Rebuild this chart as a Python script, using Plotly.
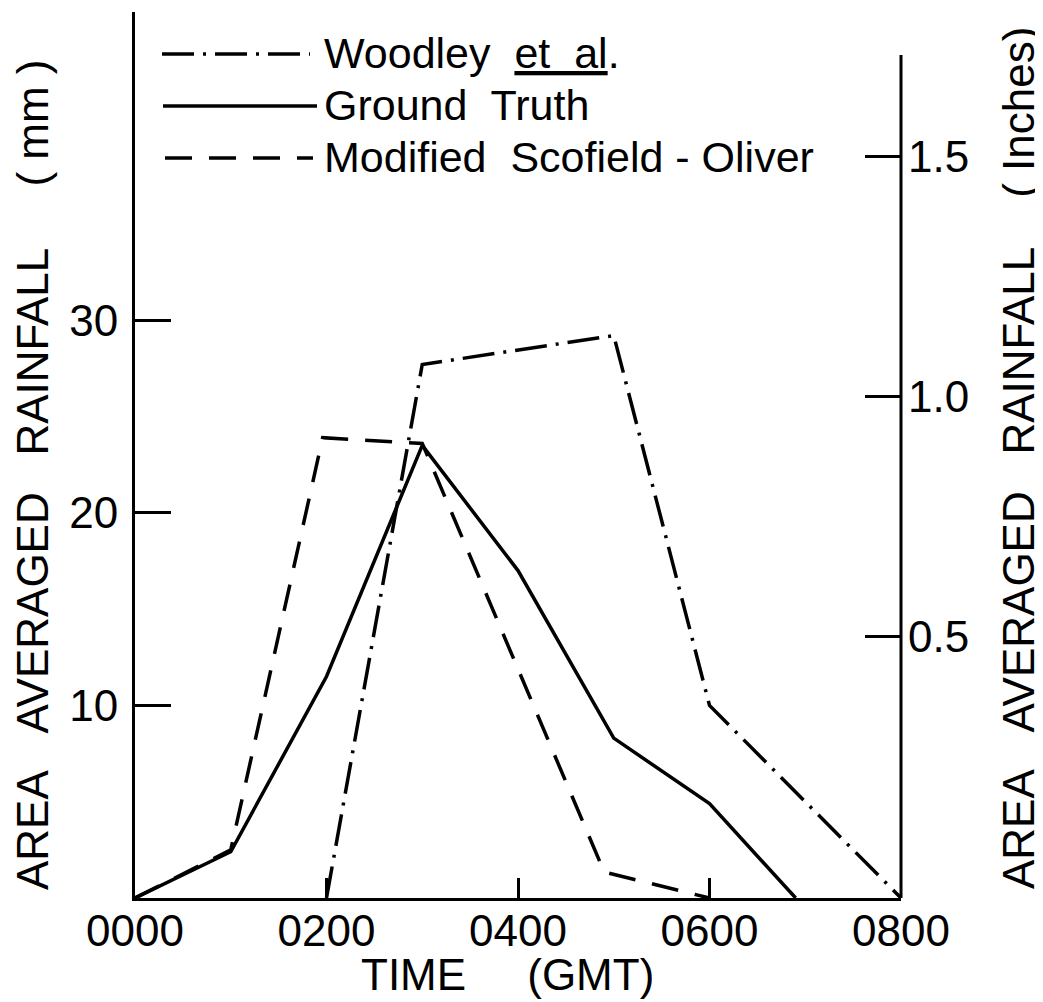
import plotly.graph_objects as go

# ---------------- data ----------------
# time in hours after 0000 GMT
time_ticks = [0, 2, 4, 6, 8]
time_labels = ["0000", "0200", "0400", "0600", "0800"]
mm_ticks = [10, 20, 30]
mm_labels = ["10", "20", "30"]
inch_ticks = [0.5, 1.0, 1.5]
inch_labels = ["0.5", "1.0", "1.5"]

woodley_t = [2.0, 3.0, 5.0, 6.0, 8.0]
woodley_mm = [0.0, 27.7, 29.2, 10.0, 0.0]

ground_t = [0.0, 1.0, 2.0, 3.0, 4.0, 5.0, 6.0, 6.9]
ground_mm = [0.0, 2.4, 11.5, 23.5, 17.0, 8.3, 4.9, 0.0]

scofield_t = [0.0, 1.0, 1.96, 3.0, 4.9, 6.0]
scofield_mm = [0.0, 2.5, 23.9, 23.6, 1.35, 0.0]

series_names = ["Woodley\u00a0 <u>et\u00a0 al</u>.", "Ground\u00a0 Truth",
                "Modified\u00a0 Scofield\u00a0-\u00a0Oliver"]

# ---------------- styling ----------------
FONT = "Liberation Sans, Arial, sans-serif"
FS = 44
LEG_FS = 43
BODY = 8                       # default page margin of the html body
W, H = 1043 - BODY, 1002 - BODY
PLOT_L, PLOT_R, PLOT_T, PLOT_B = 135, 901, 12, 898   # plot area in page pixels
L, T = PLOT_L - BODY, PLOT_T - BODY
R, B = 1043 - PLOT_R, 1002 - PLOT_B
PW, PH = PLOT_R - PLOT_L, PLOT_B - PLOT_T

WOODLEY_DASH = "32px,9px,3px,9px"
SCOFIELD_DASH = "27px,17px"
LW = 3.5


def px_x(px):
    return (px - PLOT_L) / PW


def px_y(py):
    return (PLOT_B - py) / PH


fig = go.Figure()
fig.add_trace(go.Scatter(x=woodley_t, y=woodley_mm, mode="lines", name=series_names[0],
                         line=dict(color="black", width=LW, dash=WOODLEY_DASH), showlegend=False))
fig.add_trace(go.Scatter(x=ground_t, y=ground_mm, mode="lines", name=series_names[1],
                         line=dict(color="black", width=LW), showlegend=False))
fig.add_trace(go.Scatter(x=scofield_t, y=scofield_mm, mode="lines", name=series_names[2],
                         line=dict(color="black", width=LW, dash=SCOFIELD_DASH), showlegend=False))
# empty trace to carry the inches axis
fig.add_trace(go.Scatter(x=[None], y=[None], yaxis="y2", showlegend=False, hoverinfo="skip"))

shapes = []
annotations = []

# right axis line (shorter than the left one)
shapes.append(dict(type="line", xref="paper", yref="paper", x0=1, x1=1, y0=0, y1=px_y(55),
                   line=dict(color="black", width=3)))

# hand-drawn style legend
legend_rows = [54, 106, 158]
legend_x = [(162, 310), (163, 317), (165, 313)]
legend_dash = [WOODLEY_DASH, "solid", SCOFIELD_DASH]
for name, ry, (x0, x1), d in zip(series_names, legend_rows, legend_x, legend_dash):
    shapes.append(dict(type="line", xref="paper", yref="paper",
                       x0=px_x(x0), x1=px_x(x1), y0=px_y(ry), y1=px_y(ry),
                       line=dict(color="black", width=LW, dash=d)))
    annotations.append(dict(text=name, xref="paper", yref="paper", x=px_x(322), y=px_y(ry - 1),
                            xanchor="left", yanchor="middle", showarrow=False,
                            font=dict(family=FONT, size=LEG_FS, color="black")))

NB = "\u00a0"
annotations.append(dict(text=f"AREA{NB*3}AVERAGED{NB*3}RAINFALL{NB*5}({NB}mm{NB})",
                        xref="paper", yref="paper", x=px_x(32), y=px_y(475),
                        xanchor="center", yanchor="middle", textangle=-90, showarrow=False,
                        font=dict(family=FONT, size=FS, color="black")))
annotations.append(dict(text=f"AREA{NB*3}AVERAGED{NB*3}RAINFALL{NB*4}({NB}Inches)",
                        xref="paper", yref="paper", x=px_x(1018), y=px_y(458),
                        xanchor="center", yanchor="middle", textangle=-90, showarrow=False,
                        font=dict(family=FONT, size=FS, color="black")))
annotations.append(dict(text=f"TIME{NB*5}(GMT)",
                        xref="paper", yref="paper", x=px_x(507), y=px_y(975),
                        xanchor="center", yanchor="middle", showarrow=False,
                        font=dict(family=FONT, size=FS, color="black")))

axis_common = dict(showgrid=False, zeroline=False, ticks="inside", tickwidth=3,
                   tickcolor="black", linecolor="black", linewidth=3,
                   tickfont=dict(family=FONT, size=FS, color="black"))

fig.update_layout(
    width=W, height=H, autosize=False,
    margin=dict(l=L, r=R, t=T, b=B, pad=0),
    paper_bgcolor="white", plot_bgcolor="white",
    showlegend=False,
    xaxis=dict(range=[0, 8], tickvals=time_ticks, ticktext=time_labels, showline=True,
               ticklen=20, ticklabelstandoff=-8, **axis_common),
    yaxis=dict(range=[0, 46], tickvals=mm_ticks, ticktext=mm_labels, showline=True,
               ticklen=36, ticklabelstandoff=5, **axis_common),
    yaxis2=dict(overlaying="y", side="right", range=[-0.044, 1.802], tickvals=inch_ticks,
                ticktext=inch_labels, showline=False, ticklen=36, ticklabelstandoff=6,
                **axis_common),
    shapes=shapes,
    annotations=annotations,
)

fig.write_html("out.html")
